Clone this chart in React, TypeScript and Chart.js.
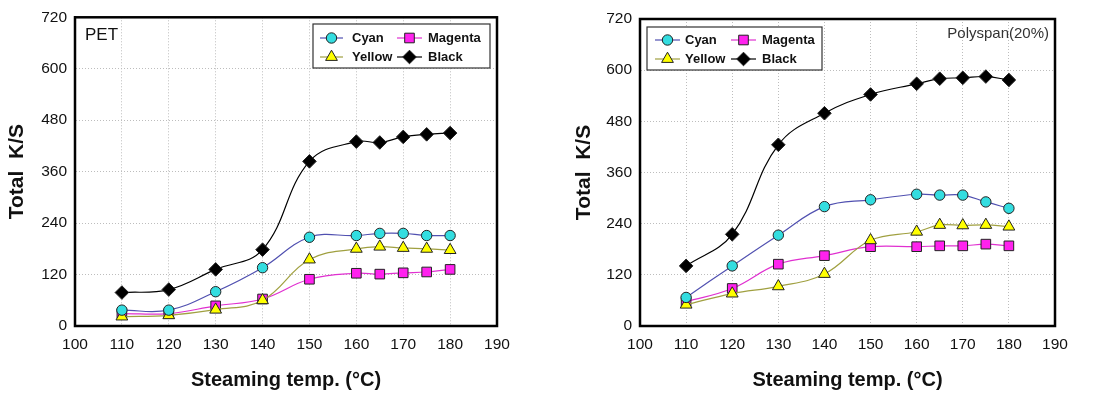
import React, { useEffect, useRef } from "react";
import { Chart, registerables } from "chart.js";

Chart.register(...registerables);

// ---- data ----
const temps = [110, 120, 130, 140, 150, 160, 165, 170, 175, 180];
const xTicks = [100, 110, 120, 130, 140, 150, 160, 170, 180, 190];
const yTicks = [0, 120, 240, 360, 480, 600, 720];

const petCyan = [37, 37, 80, 136, 207, 211, 216, 216, 211, 211];
const petMagenta = [29, 29, 47, 63, 109, 123, 121, 124, 126, 132];
const petYellow = [22, 25, 38, 60, 155, 180, 185, 182, 180, 177];
const petBlack = [78, 85, 132, 178, 384, 430, 428, 441, 447, 450];

const polyCyan = [67, 141, 213, 280, 296, 309, 307, 307, 291, 276];
const polyMagenta = [57, 88, 145, 165, 186, 186, 188, 188, 192, 188];
const polyYellow = [50, 76, 93, 122, 201, 221, 237, 236, 237, 233];
const polyBlack = [141, 215, 425, 499, 543, 568, 580, 582, 585, 577];

const seriesNames = ["Cyan", "Magenta", "Yellow", "Black"];
const xTitle = "Steaming temp. (\u00B0C)";
const yTitle = "Total  K/S";

const FONT = "'Liberation Sans', Arial, sans-serif";

const styles = [
  { line: "#5050b0", fill: "#33dde0", shape: "circle", r: 5.2 },
  { line: "#e030d0", fill: "#ff22ee", shape: "rect", r: 6.8 },
  { line: "#a0a040", fill: "#ffff00", shape: "triangle", r: 6.8 },
  { line: "#000000", fill: "#000000", shape: "rectRot", r: 6.8 },
];

function drawMarker(ctx: CanvasRenderingContext2D, shape: string, x: number, y: number, r: number, fill: string) {
  ctx.save();
  ctx.beginPath();
  if (shape === "circle") {
    ctx.arc(x, y, r, 0, Math.PI * 2);
  } else if (shape === "rect") {
    const s = Math.SQRT1_2 * r;
    ctx.rect(x - s, y - s, 2 * s, 2 * s);
  } else if (shape === "triangle") {
    ctx.moveTo(x, y - r);
    ctx.lineTo(x + r * 0.866, y + r * 0.5);
    ctx.lineTo(x - r * 0.866, y + r * 0.5);
    ctx.closePath();
  } else {
    ctx.moveTo(x, y - r);
    ctx.lineTo(x + r, y);
    ctx.lineTo(x, y + r);
    ctx.lineTo(x - r, y);
    ctx.closePath();
  }
  ctx.fillStyle = fill;
  ctx.fill();
  ctx.lineWidth = 1;
  ctx.strokeStyle = "#222";
  ctx.stroke();
  ctx.restore();
}

type PanelProps = {
  left: number;
  width: number;
  values: number[][];
  plotLeft: number;
  plotRight: number;
  plotTop: number;
  label: string;
  labelPos: { x: number; y: number; align: CanvasTextAlign; size: number; color: string };
  legend: { x1: number; y1: number; x2: number; y2: number; rows: number[]; cols: { lx1: number; lx2: number; tx: number }[] };
  yTitleX: number;
};

function Panel(p: PanelProps) {
  const ref = useRef<HTMLCanvasElement | null>(null);
  useEffect(() => {
    const canvas = ref.current;
    if (!canvas) return;
    const datasets = p.values.map((vals, i) => {
      const st = styles[i];
      return {
        label: seriesNames[i],
        data: temps.map((t, j) => ({ x: t, y: vals[j] })),
        borderColor: st.line,
        borderWidth: 1.2,
        backgroundColor: st.fill,
        pointBackgroundColor: st.fill,
        pointBorderColor: "#222",
        pointBorderWidth: 1,
        pointStyle: st.shape as any,
        pointRadius: st.r,
        tension: 0.4,
      };
    });
    const order = [3, 0, 2, 1];
    const ordered = order.map((i) => datasets[i]);

    const framePlugin = {
      id: "frame",
      afterDraw(chart: any) {
        const ctx = chart.ctx as CanvasRenderingContext2D;
        const a = chart.chartArea;
        ctx.save();
        ctx.setLineDash([]);
        ctx.strokeStyle = "#000";
        ctx.lineWidth = 2.5;
        ctx.strokeRect(a.left, a.top, a.right - a.left, a.bottom - a.top);
        // label
        ctx.font = `${p.labelPos.size}px ${FONT}`;
        ctx.fillStyle = p.labelPos.color;
        ctx.textAlign = p.labelPos.align;
        ctx.textBaseline = "middle";
        ctx.fillText(p.label, p.labelPos.x, p.labelPos.y);
        // legend
        const L = p.legend;
        ctx.fillStyle = "#fff";
        ctx.fillRect(L.x1, L.y1, L.x2 - L.x1, L.y2 - L.y1);
        ctx.lineWidth = 1.2;
        ctx.strokeStyle = "#333";
        ctx.strokeRect(L.x1, L.y1, L.x2 - L.x1, L.y2 - L.y1);
        const cells = [
          { s: 0, row: 0, col: 0 },
          { s: 1, row: 0, col: 1 },
          { s: 2, row: 1, col: 0 },
          { s: 3, row: 1, col: 1 },
        ];
        ctx.font = `bold 13px ${FONT}`;
        ctx.textAlign = "left";
        cells.forEach((c) => {
          const st = styles[c.s];
          const y = L.rows[c.row];
          const col = L.cols[c.col];
          ctx.beginPath();
          ctx.strokeStyle = st.line;
          ctx.lineWidth = 1.2;
          ctx.moveTo(col.lx1, y);
          ctx.lineTo(col.lx2, y);
          ctx.stroke();
          drawMarker(ctx, st.shape, (col.lx1 + col.lx2) / 2, y, st.r, st.fill);
          ctx.fillStyle = "#111";
          ctx.fillText(seriesNames[c.s], col.tx, y + 0.5);
        });
        ctx.restore();
      },
    };

    const chart = new Chart(canvas, {
      type: "line",
      data: { datasets: ordered as any },
      options: {
        animation: false,
        responsive: false,
        maintainAspectRatio: false,
        layout: { padding: { left: 0, right: p.width - p.plotRight, top: p.plotTop, bottom: 0 } },
        plugins: { legend: { display: false }, tooltip: { enabled: false } },
        scales: {
          x: {
            type: "linear",
            min: 100,
            max: 190,
            afterBuildTicks: (s: any) => {
              s.ticks = xTicks.map((v) => ({ value: v }));
            },
            afterFit: (s: any) => {
              s.height = 394 - 326;
            },
            ticks: { color: "#111", font: { family: FONT, size: 15.5 }, padding: 9, maxRotation: 0, autoSkip: false },
            grid: { color: "#bdbdbd", drawTicks: false, lineWidth: 1 },
            border: { display: true, color: "#000", width: 2, dash: [1, 2] },
            title: { display: true, text: xTitle, color: "#111", font: { family: FONT, size: 20, weight: "bold" }, padding: { top: 0, bottom: 2 } },
          },
          y: {
            type: "linear",
            min: 0,
            max: 720,
            afterBuildTicks: (s: any) => {
              s.ticks = yTicks.map((v) => ({ value: v }));
            },
            afterFit: (s: any) => {
              s.width = p.plotLeft;
            },
            ticks: { color: "#111", font: { family: FONT, size: 15.5 }, padding: 8, autoSkip: false },
            grid: { color: "#bdbdbd", drawTicks: false, lineWidth: 1 },
            border: { display: true, color: "#000", width: 2, dash: [1, 2] },
            title: { display: true, text: yTitle, color: "#111", font: { family: FONT, size: 21, weight: "bold" }, padding: { top: p.yTitleX - 12.6, bottom: 0 } },
          },
        },
      },
      plugins: [framePlugin],
    } as any);
    return () => chart.destroy();
  }, []);
  return (
    <canvas
      ref={ref}
      width={p.width}
      height={394}
      style={{ position: "absolute", left: p.left, top: 0, width: p.width, height: 394 }}
    />
  );
}

export default function App() {
  return (
    <div style={{ position: "fixed", left: 0, top: 0, width: 1096, height: 394, background: "#fff" }}>
      <Panel
        left={0}
        width={548}
        values={[petCyan, petMagenta, petYellow, petBlack]}
        plotLeft={75}
        plotRight={497}
        plotTop={17}
        label="PET"
        labelPos={{ x: 85, y: 35, align: "left", size: 17, color: "#111" }}
        legend={{ x1: 313, y1: 24, x2: 490, y2: 68, rows: [38, 57], cols: [{ lx1: 320, lx2: 343, tx: 352 }, { lx1: 397, lx2: 422, tx: 428 }] }}
        yTitleX={17}
      />
      <Panel
        left={548}
        width={548}
        values={[polyCyan, polyMagenta, polyYellow, polyBlack]}
        plotLeft={92}
        plotRight={507}
        plotTop={19}
        label="Polyspan(20%)"
        labelPos={{ x: 501, y: 34, align: "right", size: 15, color: "#333" }}
        legend={{ x1: 99, y1: 27, x2: 274, y2: 70, rows: [40, 59], cols: [{ lx1: 107, lx2: 132, tx: 137 }, { lx1: 183, lx2: 208, tx: 214 }] }}
        yTitleX={36}
      />
    </div>
  );
}
